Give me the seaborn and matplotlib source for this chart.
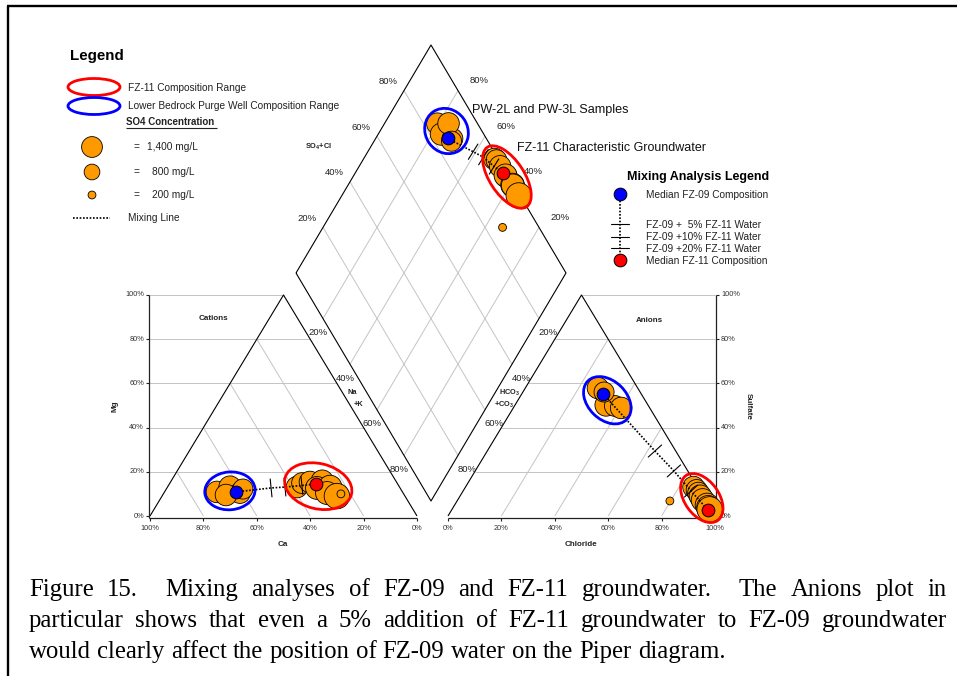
import numpy as np
import pandas as pd
import matplotlib
matplotlib.use("Agg")
import matplotlib.pyplot as plt
import seaborn as sns
from matplotlib.patches import Ellipse

sns.set_theme(style="white")
plt.rcParams['font.family'] = ['Liberation Sans', 'DejaVu Sans']
plt.rcParams['mathtext.fontset'] = 'custom'
plt.rcParams['mathtext.rm'] = 'Liberation Sans:bold'
plt.rcParams['mathtext.bf'] = 'Liberation Sans:bold'

# ---------------- data (fractions of meq) ----------------
# PW-2L / PW-3L samples (lower bedrock purge wells)
pw_Mg = [0.109, 0.131, 0.104, 0.095, 0.122]
pw_NaK = [0.196, 0.234, 0.285, 0.237, 0.287]
pw_SO4 = [0.579, 0.502, 0.498, 0.489, 0.561]
pw_Cl = [0.272, 0.341, 0.376, 0.404, 0.304]
pw_conc = [1500, 1600, 1400, 1500, 1300]

# FZ-11 samples
fz_Mg = [0.131, 0.149, 0.154, 0.158, 0.127, 0.131, 0.104, 0.090, 0.100]
fz_NaK = [0.485, 0.495, 0.522, 0.566, 0.562, 0.609, 0.611, 0.655, 0.665]
fz_SO4 = [0.131, 0.118, 0.104, 0.090, 0.072, 0.050, 0.041, 0.030, 0.068]
fz_Cl = [0.854, 0.872, 0.886, 0.900, 0.918, 0.945, 0.954, 0.965, 0.797]
fz_conc = [1500, 1400, 1500, 1600, 1700, 1800, 1700, 2100, 200]
fz_in_range = [True, True, True, True, True, True, True, True, False]

# medians
med09 = {"Mg": 0.109, "NaK": 0.267, "SO4": 0.552, "Cl": 0.305}
med11 = {"Mg": 0.145, "NaK": 0.549, "SO4": 0.027, "Cl": 0.960}

# mixtures FZ-09 + x% FZ-11
mix_pct = [5, 10, 20]
mix_Mg = [0.127, 0.131, 0.138]
mix_NaK = [0.390, 0.440, 0.500]
mix_SO4 = [0.294, 0.204, 0.113]
mix_Cl = [0.628, 0.744, 0.854]

legend_conc = [1400, 800, 200]
legend_conc_labels = ["1,400 mg/L", "800 mg/L", "200 mg/L"]
pct_ticks = [0, 20, 40, 60, 80, 100]

ORANGE = "#FF9900"
GRID = "#c4c4c4"
W, H = 957, 676

fig = plt.figure(figsize=(W / 100, H / 100), dpi=100)
ax = fig.add_axes([0, 0, 1, 1])
ax.axis("off")

# ---------------- geometry ----------------
CX0, CW = 150.0, 267.0
AX0 = 448.0
YB, YH = 516.0, 221.0
DL = np.array([296.0, 273.0]); DT = np.array([431.0, 45.0])
DR = np.array([566.0, 273.0]); DB = np.array([431.0, 501.0])


def cat_xy(mg, nak):
    mg = np.asarray(mg, float); nak = np.asarray(nak, float)
    return CX0 + (nak + mg / 2) * CW, YB - mg * YH


def an_xy(so4, cl):
    so4 = np.asarray(so4, float); cl = np.asarray(cl, float)
    return AX0 + (cl + so4 / 2) * CW, YB - so4 * YH


def dia_xy(a, n):
    a = np.asarray(a, float); n = np.asarray(n, float)
    p = DL[:, None] + np.outer(DT - DL, np.atleast_1d(a)) + np.outer(DB - DL, np.atleast_1d(n))
    return p[0], p[1]


def line(xs, ys, **kw):
    ax.plot(xs, ys, solid_capstyle="butt", **kw)


# ---------------- frame ----------------
line([7, W], [6, 6], color="black", lw=1.7)
line([7.5, 7.5], [6, H], color="black", lw=1.7)

# ---------------- cation triangle ----------------
for v in [0.2, 0.4, 0.6, 0.8, 1.0]:
    y = YB - v * YH
    line([CX0 - 1, CX0 + (1 - v / 2) * CW], [y, y], color=GRID, lw=0.7, zorder=1)
for c in [0.2, 0.4, 0.6, 0.8]:
    x0, y0 = cat_xy(0, 1 - c)
    x1, y1 = cat_xy(1 - c, 0)
    line([x0, x1], [y0, y1], color=GRID, lw=0.7, zorder=1)
tx, ty = cat_xy([0, 1, 0], [0, 0, 1])
line(tx, ty, color="black", lw=0.8, zorder=2)
# axes
line([CX0 - 1, CX0 - 1], [YB + 2, YB - YH], color="#222222", lw=0.9, zorder=2)
line([CX0 - 1, CX0 + CW], [YB + 2, YB + 2], color="#222222", lw=0.9, zorder=2)
for p in pct_ticks:
    y = YB - p / 100 * YH
    line([CX0 - 4, CX0 - 1], [y, y], color="#222222", lw=0.8)
    ax.text(CX0 - 6, y, f"{p}%", fontsize=5.3, color="#333333", ha="right", va="center")
    x = CX0 + (1 - p / 100) * CW
    line([x, x], [YB + 2, YB + 5], color="#222222", lw=0.8)
    ax.text(x, YB + 12, f"{p}%", fontsize=5.3, color="#333333", ha="center", va="center")
ax.text(283, 544, "Ca", fontsize=5.8, fontweight="bold", ha="center", va="center", color="#222222")
ax.text(115, 406, "Mg", fontsize=5.8, fontweight="bold", ha="center", va="center", rotation=90, color="#222222")
ax.text(213, 319, "Cations", fontsize=5.8, fontweight="bold", ha="center", va="center", color="#222222")

# ---------------- anion triangle ----------------
AR = AX0 + CW
for v in [0.2, 0.4, 0.6, 0.8, 1.0]:
    y = YB - v * YH
    line([AX0 + v / 2 * CW, AR], [y, y], color=GRID, lw=0.7, zorder=1)
for c in [0.2, 0.4, 0.6, 0.8]:
    x0, y0 = an_xy(0, c)
    x1, y1 = an_xy(1 - c, c)
    line([x0, x1], [y0, y1], color=GRID, lw=0.7, zorder=1)
tx, ty = an_xy([0, 1, 0], [0, 0, 1])
line(tx, ty, color="black", lw=0.8, zorder=2)
line([AX0, AR + 0.5], [YB + 2, YB + 2], color="#222222", lw=0.9, zorder=2)
line([AR + 0.5, AR + 0.5], [YB + 2, YB - YH], color="#222222", lw=0.9, zorder=2)
for p in pct_ticks:
    y = YB - p / 100 * YH
    line([AR + 0.5, AR + 3.5], [y, y], color="#222222", lw=0.8)
    ax.text(AR + 6, y, f"{p}%", fontsize=5.3, color="#333333", ha="left", va="center")
    x = AX0 + p / 100 * CW
    line([x, x], [YB + 2, YB + 5], color="#222222", lw=0.8)
    ax.text(x, YB + 12, f"{p}%", fontsize=5.3, color="#333333", ha="center", va="center")
ax.text(581, 545, "Chloride", fontsize=5.8, fontweight="bold", ha="center", va="center", color="#222222")
ax.text(748, 406, "Sulfate", fontsize=5.8, fontweight="bold", ha="center", va="center", rotation=270, color="#222222")
ax.text(649, 321, "Anions", fontsize=5.8, fontweight="bold", ha="center", va="center", color="#222222")

# ---------------- diamond ----------------
for v in [0.2, 0.4, 0.6, 0.8]:
    x, y = dia_xy([v, v], [0, 1]); line(x, y, color=GRID, lw=0.7, zorder=1)
    x, y = dia_xy([0, 1], [v, v]); line(x, y, color=GRID, lw=0.7, zorder=1)
dx, dy = dia_xy([0, 1, 1, 0, 0], [0, 0, 1, 1, 0])
line(dx, dy, color="black", lw=0.8, zorder=2)
for v in [20, 40, 60, 80]:
    f = v / 100
    p = DL + f * (DT - DL); ax.text(p[0] - 16, p[1] - 9, f"{v}%", fontsize=6.8, color="#222222", ha="center", va="center")
    p = DR + f * (DT - DR); ax.text(p[0] + 21, p[1] - 10, f"{v}%", fontsize=6.8, color="#222222", ha="center", va="center")
    p = DL + f * (DB - DL); ax.text(p[0] - 5, p[1] + 14, f"{v}%", fontsize=6.8, color="#222222", ha="center", va="center")
    p = DR + f * (DB - DR); ax.text(p[0] + 9, p[1] + 14, f"{v}%", fontsize=6.8, color="#222222", ha="center", va="center")
ax.text(318, 147, r"SO$_4$+Cl", fontsize=5.3, fontweight="bold", ha="center", va="center", color="#222222")
ax.text(352, 393, "Na", fontsize=5.3, fontweight="bold", ha="center", va="center", color="#222222")
ax.text(359, 404, "+K", fontsize=5.3, fontweight="bold", ha="center", va="center", color="#222222")
ax.text(510, 393, r"HCO$_3$", fontsize=5.3, fontweight="bold", ha="center", va="center", color="#222222")
ax.text(504, 405, r"+CO$_3$", fontsize=5.3, fontweight="bold", ha="center", va="center", color="#222222")

# ---------------- samples ----------------
pw_a = np.add(pw_SO4, pw_Cl)
fz_a = np.add(fz_SO4, fz_Cl)
size_of = lambda c: c * 0.16
rad_of = lambda c: np.sqrt(size_of(c)) / 0.72 / 2


def scatter_group(xs, ys, conc, z=4):
    df = pd.DataFrame({"x": xs, "y": ys, "conc": conc})
    sns.scatterplot(data=df, x="x", y="y", size="conc",
                    sizes={c: size_of(c) for c in df["conc"].unique()},
                    color=ORANGE, edgecolor="black", linewidth=0.6,
                    legend=False, ax=ax, zorder=z)


def group_ellipse(xs, ys, conc, color):
    pts = np.column_stack([xs, ys])
    c = pts.mean(0)
    w, v = np.linalg.eigh(np.cov((pts - c).T))
    p1 = (pts - c) @ v[:, 1]
    p2 = (pts - c) @ v[:, 0]
    c = c + (p1.max() + p1.min()) / 2 * v[:, 1] + (p2.max() + p2.min()) / 2 * v[:, 0]
    r = max(rad_of(k) for k in conc)
    a = (p1.max() - p1.min()) / 2 + r + 1
    b = (p2.max() - p2.min()) / 2 + r + 4
    ang = np.degrees(np.arctan2(v[1, 1], v[0, 1]))
    ax.add_patch(Ellipse(c, 2 * a, 2 * b, angle=ang, fill=False, ec=color, lw=2.0, zorder=8))


def mixing(p09, p11, pm, z=6):
    xs = [p09[0]] + list(pm[0]) + [p11[0]]
    ys = [p09[1]] + list(pm[1]) + [p11[1]]
    ax.plot(xs, ys, color="black", lw=1.2, ls=(0, (1, 1)), zorder=z)
    d = np.array([p11[0] - p09[0], p11[1] - p09[1]], float)
    d /= np.hypot(*d)
    nrm = np.array([-d[1], d[0]]) * 9
    for x, y in zip(pm[0], pm[1]):
        ax.plot([x - nrm[0], x + nrm[0]], [y - nrm[1], y + nrm[1]], color="black", lw=0.8, zorder=z)
    for (x, y), col in [(p09, "#0000FF"), (p11, "#FF0000")]:
        ax.scatter([x], [y], s=84, color=col, edgecolor="black", linewidth=0.7, zorder=z + 1)


fz_rng = [i for i, k in enumerate(fz_in_range) if k]

# cations
px, py = cat_xy(pw_Mg, pw_NaK); fx, fy = cat_xy(fz_Mg, fz_NaK)
scatter_group(px, py, pw_conc); scatter_group(fx, fy, fz_conc)
mixing(cat_xy(med09["Mg"], med09["NaK"]), cat_xy(med11["Mg"], med11["NaK"]), cat_xy(mix_Mg, mix_NaK))
group_ellipse(px, py, pw_conc, "#0000FF")
group_ellipse(fx[fz_rng], fy[fz_rng], np.array(fz_conc)[fz_rng], "#FF0000")

# anions
px, py = an_xy(pw_SO4, pw_Cl); fx, fy = an_xy(fz_SO4, fz_Cl)
scatter_group(px, py, pw_conc); scatter_group(fx, fy, fz_conc)
mixing(an_xy(med09["SO4"], med09["Cl"]), an_xy(med11["SO4"], med11["Cl"]), an_xy(mix_SO4, mix_Cl))
group_ellipse(px, py, pw_conc, "#0000FF")
group_ellipse(fx[fz_rng], fy[fz_rng], np.array(fz_conc)[fz_rng], "#FF0000")

# diamond
px, py = dia_xy(pw_a, pw_NaK); fx, fy = dia_xy(fz_a, fz_NaK)
scatter_group(px, py, pw_conc); scatter_group(fx, fy, fz_conc)
m09 = dia_xy(med09["SO4"] + med09["Cl"], med09["NaK"])
m11 = dia_xy(med11["SO4"] + med11["Cl"], med11["NaK"])
mixing((m09[0][0], m09[1][0]), (m11[0][0], m11[1][0]), dia_xy(np.add(mix_SO4, mix_Cl), mix_NaK))
group_ellipse(px, py, pw_conc, "#0000FF")
group_ellipse(fx[fz_rng], fy[fz_rng], np.array(fz_conc)[fz_rng], "#FF0000")

ax.text(472, 110, "PW-2L and PW-3L Samples", fontsize=9.1, ha="left", va="center", color="#111111")
ax.text(517, 148, "FZ-11 Characteristic Groundwater", fontsize=9.0, ha="left", va="center", color="#111111")

# ---------------- legend ----------------
ax.text(70, 56, "Legend", fontsize=10.9, fontweight="bold", ha="left", va="center", color="black")
ax.add_patch(Ellipse((94, 87), 52, 17, fill=False, ec="#FF0000", lw=2.0))
ax.add_patch(Ellipse((94, 106), 52, 17, fill=False, ec="#0000FF", lw=2.0))
ax.text(128, 88, "FZ-11 Composition Range", fontsize=7.3, ha="left", va="center", color="#222222")
ax.text(128, 106, "Lower Bedrock Purge Well Composition Range", fontsize=7.3, ha="left", va="center", color="#222222")
ax.text(126, 122, "SO4 Concentration", fontsize=7.0, fontweight="bold", ha="left", va="center", color="#222222")
line([126, 217], [128, 128], color="#222222", lw=0.8)
ly = [147, 172, 195]
sns.scatterplot(x=[92] * 3, y=ly, size=legend_conc, sizes={c: size_of(c) for c in legend_conc},
                color=ORANGE, edgecolor="black", linewidth=0.6, legend=False, ax=ax, zorder=4)
for y, lab, xo in zip(ly, legend_conc_labels, [147, 152, 152]):
    ax.text(134, y, "=", fontsize=7.3, ha="left", va="center", color="#222222")
    ax.text(xo, y, lab, fontsize=7.3, ha="left", va="center", color="#222222")
ax.plot([73, 110], [218, 218], color="black", lw=1.2, ls=(0, (1, 1)))
ax.text(128, 218, "Mixing Line", fontsize=7.3, ha="left", va="center", color="#222222")

# mixing analysis legend
ax.text(627, 177, "Mixing Analysis Legend", fontsize=9.0, fontweight="bold", ha="left", va="center", color="black")
ax.plot([620, 620], [194, 260], color="black", lw=1.2, ls=(0, (1, 1)), zorder=3)
for y in [224, 237, 248]:
    ax.plot([611, 629], [y, y], color="black", lw=0.8, zorder=3)
ax.scatter([620], [194], s=84, color="#0000FF", edgecolor="black", linewidth=0.7, zorder=5)
ax.scatter([620], [260], s=84, color="#FF0000", edgecolor="black", linewidth=0.7, zorder=5)
mix_leg = ["Median FZ-09 Composition"] + [f"FZ-09 +{'  ' if p < 10 else ''}{p}% FZ-11 Water" for p in mix_pct] + ["Median FZ-11 Composition"]
for y, s in zip([195, 225, 237, 249, 261], mix_leg):
    ax.text(646, y, s, fontsize=7.3, ha="left", va="center", color="#222222")

# ---------------- caption (justified) ----------------
cap_lines = [
    "Figure 15.  Mixing analyses of FZ-09 and FZ-11 groundwater.  The Anions plot in",
    "particular shows that even a 5% addition of FZ-11 groundwater to FZ-09 groundwater",
    "would clearly affect the position of FZ-09 water on the Piper diagram.",
]
cap_y = [596, 627, 658]
CAP_FS = 17.8
X0, X1 = 29, 947

ax.set_xlim(0, W)
ax.set_ylim(H, 0)
fig.canvas.draw()
rend = fig.canvas.get_renderer()
for i, (ln, y) in enumerate(zip(cap_lines, cap_y)):
    tokens = ln.split(" ")
    items = []  # (text, gaps_before)
    extra = 0
    for tok in tokens:
        if tok == "":
            extra += 1
            continue
        items.append([tok, 1 + extra if items else 0])
        extra = 0
    ts = [ax.text(0, y, w, fontsize=CAP_FS, family=["Liberation Serif"], ha="left", va="baseline", color="black")
          for w, _ in items]
    widths = [t.get_window_extent(rend).width for t in ts]
    t1 = ax.text(0, y, "a a", fontsize=CAP_FS, family=["Liberation Serif"])
    t2 = ax.text(0, y, "aa", fontsize=CAP_FS, family=["Liberation Serif"])
    space = t1.get_window_extent(rend).width - t2.get_window_extent(rend).width
    t1.remove(); t2.remove()
    ngaps = sum(g for _, g in items)
    gap = (X1 - X0 - sum(widths)) / ngaps if i < 2 else space
    x = X0
    for t, wdt, (_, g) in zip(ts, widths, items):
        x += g * gap
        t.set_x(x)
        x += wdt

ax.set_xlim(0, W)
ax.set_ylim(H, 0)
fig.savefig("out.png", dpi=100)
